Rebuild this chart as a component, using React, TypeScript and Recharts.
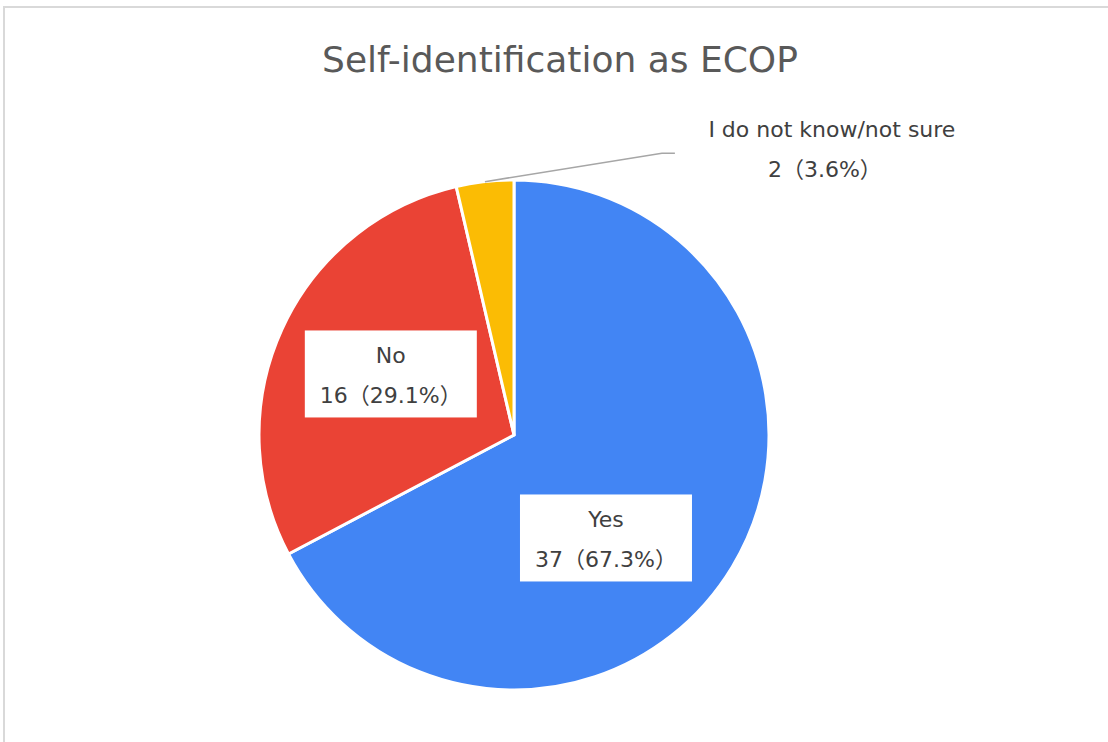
import React from "react";
import { PieChart, Pie, Cell } from "recharts";

const categories = ["Yes", "No", "I do not know/not sure"];
const counts = [37, 16, 2];
const colors = ["#4285F4", "#EA4335", "#FBBC04"];

const total = counts.reduce((a, b) => a + b, 0);
const data = categories.map((name, i) => ({
  name,
  value: counts[i],
  pct: ((counts[i] / total) * 100).toFixed(1),
}));

const FONT = "'DejaVu Sans', 'Noto Sans CJK JP', sans-serif";
const RAD = Math.PI / 180;

// inside labels sit at ~0.54 of the radius, nudged a bit like Sheets does
const insideNudge = [-17, -2];

function renderLabel(props: any) {
  const { cx, cy, midAngle, outerRadius, index, payload } = props;
  const d = payload && payload.name ? payload : data[index];
  const line2 = `${d.value}（${d.pct}%）`;

  if (index < 2) {
    const a = (midAngle + insideNudge[index]) * RAD;
    const r = outerRadius * 0.54;
    const x = cx + r * Math.cos(a);
    const y = cy - r * Math.sin(a);
    return (
      <g>
        <rect x={x - 86} y={y - 43} width={172} height={87} fill="#ffffff" />
        <text x={x} y={y - 10} textAnchor="middle" fontSize={22} fill="#404040" fontFamily={FONT}>
          {d.name}
        </text>
        <text x={x} y={y + 30} textAnchor="middle" fontSize={22} fill="#404040" fontFamily={FONT}>
          {line2}
        </text>
      </g>
    );
  }

  const a = midAngle * RAD;
  const sx = cx + outerRadius * Math.cos(a);
  const sy = cy - outerRadius * Math.sin(a);
  const ex = cx + outerRadius * 0.58;
  const ey = cy - outerRadius * 1.105;
  const tx = ex + 170;
  return (
    <g>
      <polyline
        points={`${sx},${sy} ${ex},${ey} ${ex + 13},${ey}`}
        fill="none"
        stroke="#a6a6a6"
        strokeWidth={1.5}
      />
      <text x={tx} y={ey - 16} textAnchor="middle" fontSize={22} fill="#404040" fontFamily={FONT}>
        {d.name}
      </text>
      <text x={tx - 7} y={ey + 24} textAnchor="middle" fontSize={22} fill="#404040" fontFamily={FONT}>
        {line2}
      </text>
    </g>
  );
}

export default function App() {
  return (
    <div
      style={{
        position: "fixed",
        left: 0,
        top: 0,
        width: 1108,
        height: 742,
        background: "#ffffff",
        overflow: "hidden",
      }}
    >
      <div
        style={{
          position: "absolute",
          left: 3,
          top: 6,
          width: 1120,
          height: 760,
          borderTop: "2px solid #d9d9d9",
          borderLeft: "2px solid #d9d9d9",
        }}
      />
      <div
        style={{
          position: "absolute",
          left: 0,
          top: 34,
          width: 1120,
          textAlign: "center",
          fontFamily: FONT,
          fontSize: 36,
          color: "#595959",
          lineHeight: "52px",
        }}
      >
        Self-identification as ECOP
      </div>
      <div style={{ position: "absolute", left: 0, top: 0 }}>
        <PieChart width={1108} height={742} margin={{ top: 0, right: 0, bottom: 0, left: 0 }}>
          <Pie
            data={data}
            dataKey="value"
            nameKey="name"
            cx={514}
            cy={435}
            outerRadius={255}
            startAngle={90}
            endAngle={-270}
            stroke="#ffffff"
            strokeWidth={3}
            label={renderLabel}
            labelLine={false}
            isAnimationActive={false}
          >
            {data.map((entry, i) => (
              <Cell key={entry.name} fill={colors[i]} />
            ))}
          </Pie>
        </PieChart>
      </div>
    </div>
  );
}
